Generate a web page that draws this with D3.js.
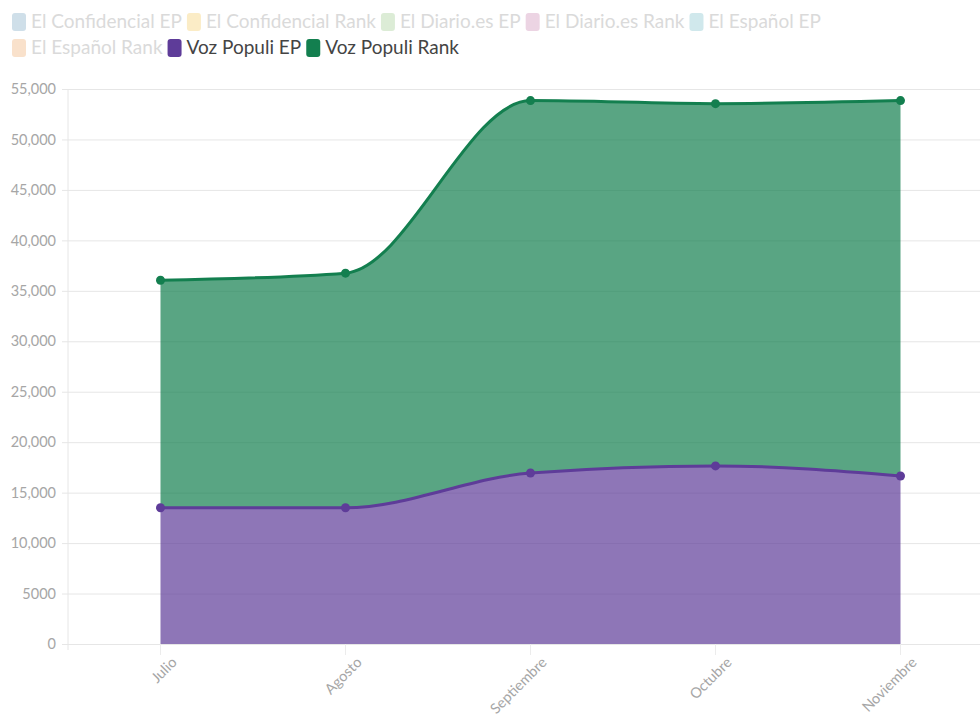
<!DOCTYPE html>
<html>
<head>
  <style>
  body {
    margin: 0;
    background: #fff;
    font-family: "Lato", "Open Sans", sans-serif;
  }
  .axis .domain {
    display: none;
  }
  .axis .tick line {
    stroke: #e6e6e6;
  }
  .axis .tick text {
    fill: #a6a6a6;
    font-size: 14.5px;
    font-family: "Lato", "Open Sans", sans-serif;
  }
  .legend text {
    font-size: 19px;
  }
  </style>
</head>
<body>
  <div id="chart"></div>
  <script src="https://d3js.org/d3.v7.min.js"></script>
  <script>
  var months = ["Julio", "Agosto", "Septiembre", "Octubre", "Noviembre"];
  var vozEP = [13500, 13500, 16950, 17650, 16650];
  var vozRank = [22550, 23250, 36900, 35900, 37200];
  var yTicks = [0, 5000, 10000, 15000, 20000, 25000, 30000, 35000, 40000, 45000, 50000, 55000];

  var legendNames = ["El Confidencial EP", "El Confidencial Rank", "El Diario.es EP", "El Diario.es Rank", "El Español EP",
    "El Español Rank", "Voz Populi EP", "Voz Populi Rank"];
  var legendColors = ["#cfdfe9", "#fbecc6", "#dcecd6", "#ecd4e3", "#d0e8ec", "#f9e1cb", "#5e3c99", "#137f4f"];
  var legendActive = [false, false, false, false, false, false, true, true];

  var width = 980, height = 717;
  var svg = d3.select("#chart").append("svg")
      .attr("width", width)
      .attr("height", height);

  // legend, two rows
  var rows = [[0, 1, 2, 3, 4], [5, 6, 7]];
  var legend = svg.append("g").attr("class", "legend");
  rows.forEach(function(r, ri){
    var xPos = 12;
    r.forEach(function(i){
      var g = legend.append("g").attr("transform", "translate(" + xPos + "," + (13 + ri * 26) + ")");
      g.append("rect")
          .attr("width", 14)
          .attr("height", 18)
          .attr("rx", 3)
          .style("fill", legendColors[i]);
      var t = g.append("text")
          .attr("x", 19)
          .attr("y", 15)
          .style("fill", legendActive[i] ? "#444" : "#dadada")
          .text(legendNames[i]);
      xPos += 19 + t.node().getComputedTextLength() + 5;
    });
  });

  var margin = {left: 68, top: 89};
  var plotBottom = 644;

  var x = d3.scaleBand()
      .domain(months)
      .range([margin.left, margin.left + 925]);

  var y = d3.scaleLinear()
      .domain([0, 55000])
      .range([plotBottom, margin.top]);

  var yAxis = d3.axisLeft(y)
      .tickValues(yTicks)
      .tickSize(-(width - margin.left))
      .tickPadding(12)
      .tickFormat(function(d){ return d < 10000 ? String(d) : d3.format(",")(d); });

  svg.append("g")
      .attr("class", "y axis")
      .attr("transform", "translate(" + margin.left + ",0)")
      .call(yAxis)
    .selectAll(".tick line")
      .attr("x1", -6);

  // vertical left line
  svg.append("line")
      .attr("x1", margin.left).attr("x2", margin.left)
      .attr("y1", margin.top).attr("y2", plotBottom + 6)
      .style("stroke", "#e6e6e6");

  var xAxis = d3.axisBottom(x).tickSize(11).tickPadding(4);
  var gx = svg.append("g")
      .attr("class", "x axis")
      .attr("transform", "translate(0," + plotBottom + ")")
      .call(xAxis);
  gx.selectAll(".tick line").style("stroke", "#ececec");
  gx.selectAll(".tick text")
      .style("text-anchor", "end")
      .attr("transform", "translate(8,10) rotate(-45)")
      .attr("dy", "0.35em")
      .attr("y", 8);

  var data = months.map(function(m, i){ return {month: m, ep: vozEP[i], rank: vozRank[i]}; });
  var stack = d3.stack().keys(["ep", "rank"]);
  var series = stack(data);

  var fills = ["rgba(94,60,153,0.7)", "rgba(19,127,79,0.7)"];
  var strokes = ["#5e3c99", "#137f4f"];

  var cx = function(d){ return x(d.data.month) + x.bandwidth() / 2; };

  var area = d3.area()
      .x(cx)
      .y0(function(d){ return y(d[0]); })
      .y1(function(d){ return y(d[1]); })
      .curve(d3.curveMonotoneX);

  var line = d3.line()
      .x(cx)
      .y(function(d){ return y(d[1]); })
      .curve(d3.curveMonotoneX);

  svg.selectAll(".area")
      .data(series)
    .enter().append("path")
      .attr("class", "area")
      .attr("d", area)
      .style("fill", function(d, i){ return fills[i]; });

  svg.selectAll(".line")
      .data(series)
    .enter().append("path")
      .attr("class", "line")
      .attr("d", line)
      .style("fill", "none")
      .style("stroke-width", 3)
      .style("stroke", function(d, i){ return strokes[i]; });

  series.forEach(function(s, i){
    svg.selectAll(".dot" + i)
        .data(s)
      .enter().append("circle")
        .attr("cx", cx)
        .attr("cy", function(d){ return y(d[1]); })
        .attr("r", 4.5)
        .style("fill", strokes[i]);
  });
  </script>
</body>
</html>
